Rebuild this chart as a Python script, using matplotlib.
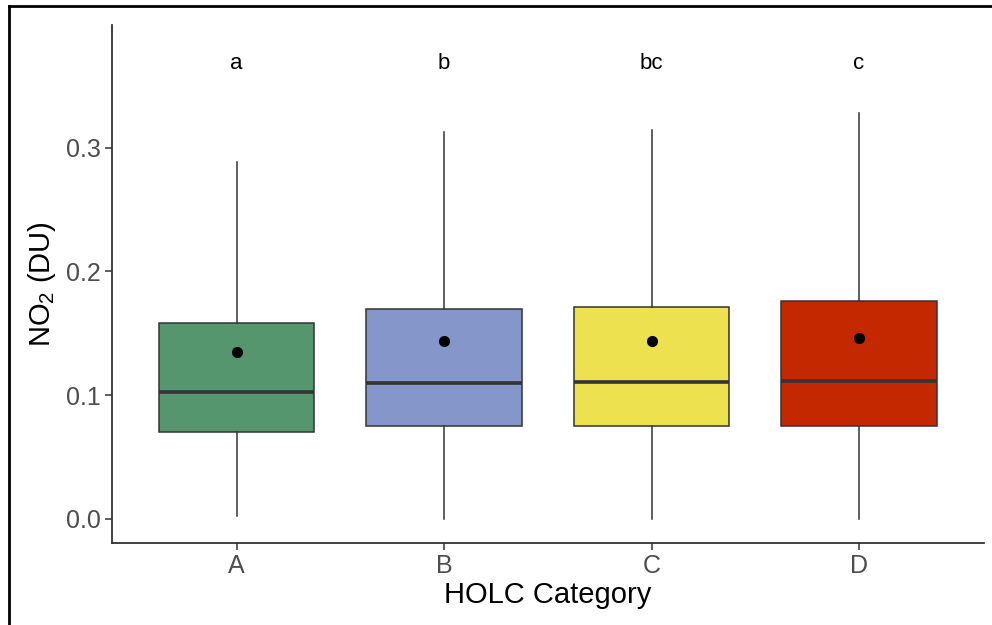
import matplotlib
matplotlib.use('Agg')
import matplotlib.pyplot as plt
from matplotlib.lines import Line2D

# summary values
categories = ['A', 'B', 'C', 'D']
whisker_low = [0.0024, 0.0, 0.0, 0.0]
q1 = [0.0705, 0.075, 0.075, 0.0754]
median = [0.1023, 0.110, 0.111, 0.1117]
q3 = [0.158, 0.170, 0.171, 0.1763]
whisker_high = [0.288, 0.3126, 0.314, 0.328]
means = [0.135, 0.1438, 0.144, 0.146]
letters = ['a', 'b', 'bc', 'c']
letter_y = 0.368
colors = ['#56966E', '#8596CB', '#EEE150', '#C42800']

plt.rcParams['font.family'] = ['Liberation Sans', 'DejaVu Sans']
plt.rcParams['mathtext.fontset'] = 'custom'
plt.rcParams['mathtext.rm'] = 'Liberation Sans'
plt.rcParams['mathtext.it'] = 'Liberation Sans:italic'

fig = plt.figure(figsize=(9.92, 6.25), dpi=100)
ax = fig.add_axes([0.1129, 0.1312, 0.8786, 0.8288])

stats = []
for i, c in enumerate(categories):
    stats.append({'label': c, 'whislo': whisker_low[i], 'q1': q1[i], 'med': median[i],
                  'q3': q3[i], 'whishi': whisker_high[i], 'fliers': []})

pos = list(range(1, len(categories) + 1))
bp = ax.bxp(stats, positions=pos, widths=0.75, patch_artist=True, showcaps=False,
            boxprops={'edgecolor': '#333333', 'linewidth': 1.1},
            medianprops={'color': '#333333', 'linewidth': 2.6},
            whiskerprops={'color': '#333333', 'linewidth': 1.1})
for patch, col in zip(bp['boxes'], colors):
    patch.set_facecolor(col)

ax.plot(pos, means, 'o', color='black', markersize=7, zorder=5)

for p, t in zip(pos, letters):
    ax.text(p, letter_y, t, ha='center', va='center', fontsize=16, color='black')

ax.set_xlim(0.4, 4.6)
ax.set_ylim(-0.0194, 0.399)
ax.set_yticks([0.0, 0.1, 0.2, 0.3])
ax.set_yticklabels(['0.0', '0.1', '0.2', '0.3'])
ax.set_xticks(pos)
ax.set_xticklabels(categories)

for s in ['top', 'right']:
    ax.spines[s].set_visible(False)
for s in ['left', 'bottom']:
    ax.spines[s].set_color('#333333')
    ax.spines[s].set_linewidth(1.3)
ax.tick_params(axis='both', direction='out', length=5, width=1.1, color='#333333',
               labelcolor='#4D4D4D', labelsize=18, pad=3)

ax.set_xlabel('HOLC Category', fontsize=21, color='black', labelpad=2)
ax.set_ylabel(r'NO$_2$ (DU)', fontsize=21, color='black', labelpad=6)

# outer frame (top and left edges of the screenshot)
fig.add_artist(Line2D([0.0086, 1.0], [0.9904, 0.9904], color='black', linewidth=2,
                      transform=fig.transFigure))
fig.add_artist(Line2D([0.0086, 0.0086], [0.0, 0.9904], color='black', linewidth=2,
                      transform=fig.transFigure))

fig.savefig('out.png', dpi=100, facecolor='white')
